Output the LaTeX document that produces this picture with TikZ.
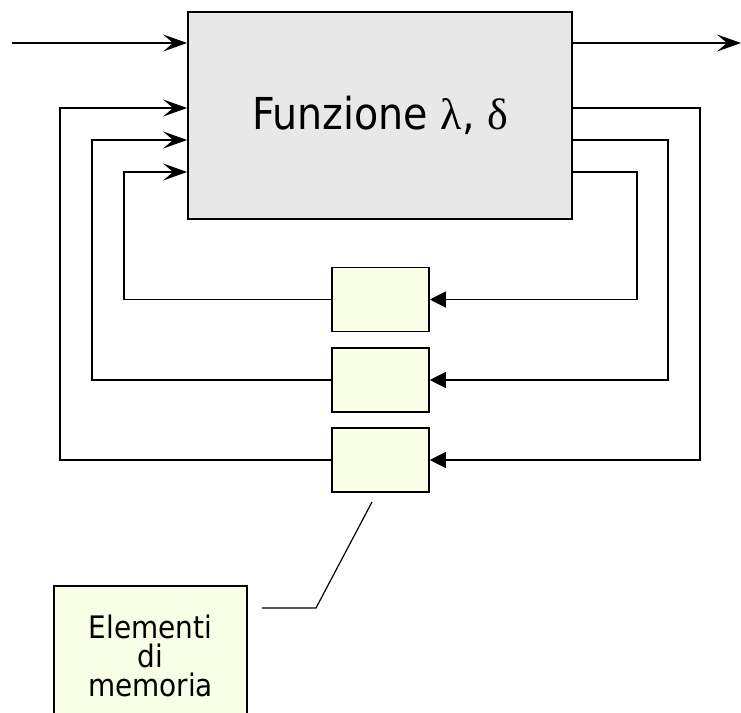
\documentclass[tikz,border=0pt]{standalone}
\usepackage{fontspec}
\setmainfont{DejaVu Sans Condensed}
\newfontfamily\greekfont{Liberation Serif}
\usetikzlibrary{arrows.meta}

\definecolor{memfill}{RGB}{248,255,230}
\definecolor{funfill}{RGB}{232,232,232}

\tikzset{
  funbox/.style={draw, line width=1.8pt, fill=funfill, minimum width=384pt, minimum height=207pt, inner sep=0pt,
    font=\fontsize{44}{52}\selectfont},
  membox/.style={draw, line width=1.6pt, fill=memfill, minimum width=97pt, minimum height=64pt, inner sep=0pt},
  notebox/.style={draw, line width=1.6pt, fill=memfill, minimum width=193pt, minimum height=140pt, inner sep=0pt,
    align=center, font=\fontsize{31}{29}\selectfont},
  wire/.style={line width=1.2pt},
  inarrow/.style={wire, -{Stealth[length=24pt, width=17pt, inset=10pt]}},
  memarrow/.style={wire, -{Triangle[length=16pt, width=16pt]}}
}

\begin{document}
\begin{tikzpicture}[x=1pt, y=-1pt]
      \clip (0,0) rectangle (741,712);

      % Combinational block
      \node[funbox] (fun) at (380,115.5)
        {\raisebox{-3pt}{Funzione {\greekfont λ}, {\greekfont δ}}};

      % Memory elements
      \node[membox] (m1) at (380.5,299.5) {};
      \node[membox] (m2) at (380.5,380) {};
      \node[membox] (m3) at (380.5,460) {};

      % Primary input and output
      \coordinate (inp) at (12,43);
      \coordinate (outp) at (741,43);
      \draw[inarrow] (inp) -- (fun.west |- inp);
      \draw[inarrow] (fun.east |- outp) -- (outp);

      % Inner loop
      \draw[memarrow] (fun.east |- 0,172) -| (637,299.5) -- (m1.east);
      \draw[inarrow] (m1.west) -| (124,172) -- (fun.west |- 0,172);

      % Middle loop
      \draw[memarrow] (fun.east |- 0,140) -| (668,380) -- (m2.east);
      \draw[inarrow] (m2.west) -| (92,140) -- (fun.west |- 0,140);

      % Outer loop
      \draw[memarrow] (fun.east |- 0,108) -| (700,460) -- (m3.east);
      \draw[inarrow] (m3.west) -| (60,108) -- (fun.west |- 0,108);

      % Label
      \node[notebox, anchor=north] (elem) at (150.5,585)
        {Elementi\\di\\memoria};
      \coordinate (tag) at (262,608);
      \draw[wire] (tag) -- (316,608) -- (372,502);
\end{tikzpicture}
\end{document}
